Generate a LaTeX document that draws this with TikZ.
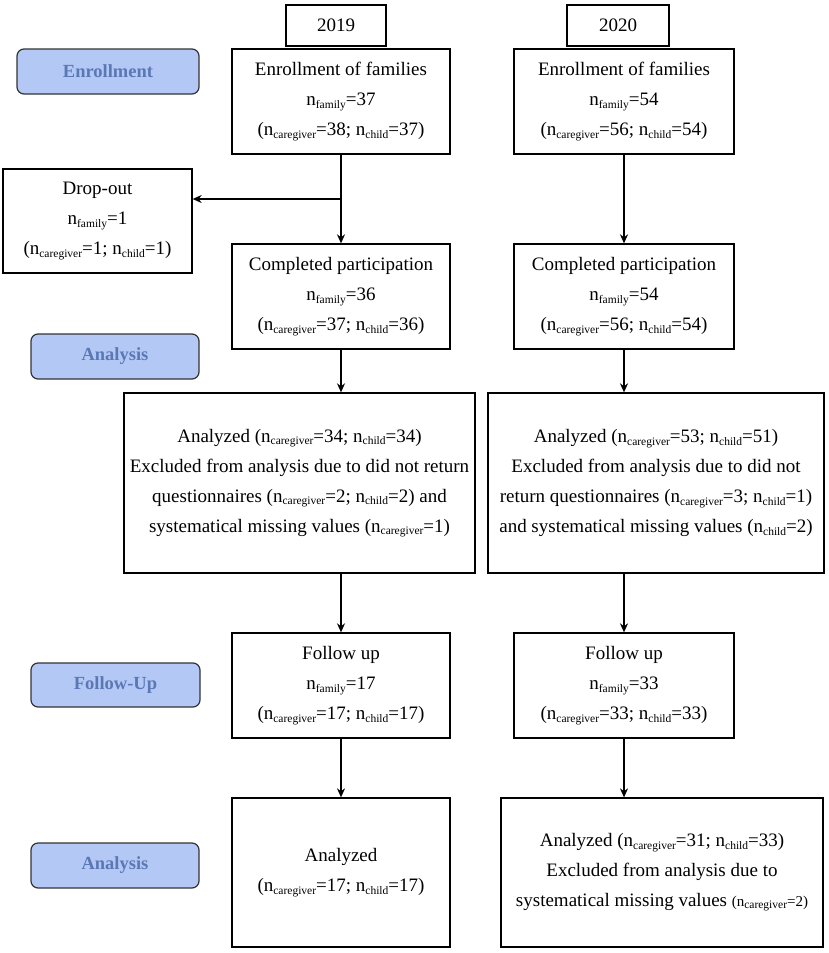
\documentclass[tikz,border=0pt]{standalone}
\usepackage{fontspec}
\setmainfont{Liberation Serif}
\usetikzlibrary{arrows.meta}
\newcommand{\nn}[1]{n\raisebox{-0.3ex}{\fontsize{11.5}{12}\selectfont #1}}
\definecolor{stagefill}{HTML}{B4C8F6}
\definecolor{stagetext}{HTML}{5A78B4}
\begin{document}
\begin{tikzpicture}[x=1pt,y=-1pt,
  box/.style={draw, line width=1.3pt, align=center, inner sep=0pt, font=\fontsize{19}{30}\selectfont},
  stage/.style={draw=black!80, fill=stagefill, rounded corners=7pt, line width=1.2pt, text=stagetext, font=\fontsize{18.5}{20}\selectfont\bfseries, inner sep=0pt},
  arr/.style={-{Stealth[length=9pt,width=8pt]}, line width=1.3pt}]
\useasboundingbox (0,0) rectangle (829,953);
% year labels
\node[box, minimum width=100pt, minimum height=41pt] (y19) at (336,25.5) {2019};
\node[box, minimum width=102pt, minimum height=41pt] (y20) at (618,25.5) {2020};
% stage labels
\node[stage, minimum width=182pt, minimum height=45pt] (s1) at (108,71.5) {Enrollment};
\node[stage, minimum width=168pt, minimum height=45pt] (s2) at (115,356.5) {Analysis};
\node[stage, minimum width=169pt, minimum height=44pt] (s3) at (115.5,685) {Follow-Up};
\node[stage, minimum width=168pt, minimum height=45pt] (s4) at (115,865.5) {Analysis};
% 2019 column
\node[box, minimum width=218pt, minimum height=105pt] (e19) at (341,101.5) {Enrollment of families\\ \nn{family}=37\\ (\nn{caregiver}=38; \nn{child}=37)};
\node[box, minimum width=189pt, minimum height=104pt] (drop) at (97.5,221) {Drop-out\\ \nn{family}=1\\ (\nn{caregiver}=1; \nn{child}=1)};
\node[box, minimum width=218pt, minimum height=105pt] (c19) at (341,296.5) {Completed participation\\ \nn{family}=36\\ (\nn{caregiver}=37; \nn{child}=36)};
\node[box, minimum width=351pt, minimum height=180pt] (a19) at (299.5,483) {Analyzed (\nn{caregiver}=34; \nn{child}=34)\\ Excluded from analysis due to did not return\\ questionnaires (\nn{caregiver}=2; \nn{child}=2) and\\ systematical missing values (\nn{caregiver}=1)};
\node[box, minimum width=218pt, minimum height=105pt] (f19) at (341,685.5) {Follow up\\ \nn{family}=17\\ (\nn{caregiver}=17; \nn{child}=17)};
\node[box, minimum width=218pt, minimum height=149pt] (b19) at (341,872.5) {Analyzed\\ (\nn{caregiver}=17; \nn{child}=17)};
% 2020 column
\node[box, minimum width=220pt, minimum height=105pt] (e20) at (624,101.5) {Enrollment of families\\ \nn{family}=54\\ (\nn{caregiver}=56; \nn{child}=54)};
\node[box, minimum width=220pt, minimum height=105pt] (c20) at (624,296.5) {Completed participation\\ \nn{family}=54\\ (\nn{caregiver}=56; \nn{child}=54)};
\node[box, minimum width=336pt, minimum height=180pt] (a20) at (656,483) {Analyzed (\nn{caregiver}=53; \nn{child}=51)\\ Excluded from analysis due to did not\\ return questionnaires (\nn{caregiver}=3; \nn{child}=1)\\ and systematical missing values (\nn{child}=2)};
\node[box, minimum width=220pt, minimum height=105pt] (f20) at (624,685.5) {Follow up\\ \nn{family}=33\\ (\nn{caregiver}=33; \nn{child}=33)};
\node[box, minimum width=322pt, minimum height=149pt] (b20) at (662,872.5) {Analyzed (\nn{caregiver}=31; \nn{child}=33)\\ Excluded from analysis due to\\ systematical missing values {\fontsize{15}{15}\selectfont(\nn{caregiver}=2)}};
% connectors
\coordinate (br) at (341,199);
\draw[arr] (e19.south) -- (c19.north);
\draw[arr] (br) -- (br -| drop.east);
\draw[arr] (c19.south) -- (c19.south |- a19.north);
\draw[arr] (a19.south -| f19.north) -- (f19.north);
\draw[arr] (f19.south) -- (b19.north);
\draw[arr] (e20.south) -- (c20.north);
\draw[arr] (c20.south) -- (c20.south |- a20.north);
\draw[arr] (a20.south -| f20.north) -- (f20.north);
\draw[arr] (f20.south) -- (f20.south |- b20.north);
\end{tikzpicture}
\end{document}
